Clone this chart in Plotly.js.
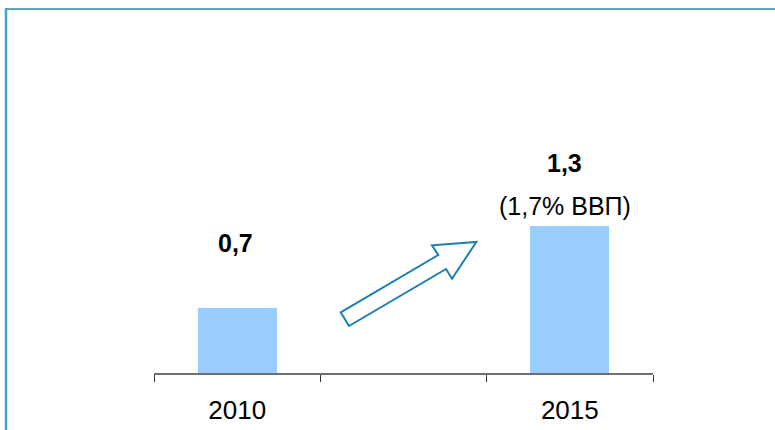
<!DOCTYPE html>
<html>
<head>
<meta charset="utf-8">
<script src="https://cdn.plot.ly/plotly-3.0.1.min.js"></script>
<style>html,body{margin:0;padding:0;background:#fff;}#chart{width:775px;height:430px;}</style>
</head>
<body>
<div id="chart"></div>
<script>
// Data
var categories = ["2010", " ", "2015"];
var years = ["2010", "2015"];
var values = [0.7, 1.3];
var valueLabels = ["0,7", "1,3"];
var gdpNote = "(1,7% ВВП)";

var W = 775, H = 430;
var M = {l: 154, r: 122, t: 30, b: 57};
var pw = W - M.l - M.r, ph = H - M.t - M.b;
function px(x) { return (x - M.l) / pw; }
function py(y) { return (H - M.b - y) / ph; }

// decorative arrow outline (pixel positions converted to paper)
var arrowPx = [[340.7,312.3],[349,326],[446,269],[452,278.7],[476.3,242],[432,245.3],[438.3,255]];
var path = arrowPx.map(function(p, i){ return (i ? "L" : "M") + px(p[0]).toFixed(4) + "," + py(p[1]).toFixed(4); }).join(" ") + " Z";

var trace = {
  type: "bar",
  x: years,
  y: values,
  width: 0.475,
  marker: {color: "#99ccff", line: {width: 0}},
  hoverinfo: "skip"
};

var font = "Liberation Sans, Arial, sans-serif";
var i0 = categories.indexOf(years[0]), i1 = categories.indexOf(years[1]);
var annotations = [
  {x: i0, y: values[0], xref: "x", yref: "y", text: "<b>" + valueLabels[0] + "</b>", showarrow: false,
   yanchor: "middle", yshift: 65, xshift: -2, font: {family: font, size: 25, color: "#000000"}},
  {x: i1, y: values[1], xref: "x", yref: "y", text: "<b>" + valueLabels[1] + "</b>", showarrow: false,
   yanchor: "middle", yshift: 63, xshift: -5, font: {family: font, size: 25, color: "#000000"}},
  {x: i1, y: values[1], xref: "x", yref: "y", text: gdpNote, showarrow: false,
   yanchor: "middle", yshift: 20, xshift: -5, font: {family: font, size: 25, color: "#000000"}}
];

var layout = {
  width: W, height: H,
  margin: M,
  paper_bgcolor: "#fff", plot_bgcolor: "#fff",
  showlegend: false,
  bargap: 0,
  xaxis: {
    type: "category",
    categoryorder: "array",
    categoryarray: categories,
    range: [-0.5, 2.5],
    tickson: "boundaries",
    ticks: "outside", ticklen: 7, tickwidth: 1, tickcolor: "#333",
    showline: true, linecolor: "#6f6f6f", linewidth: 1.5,
    showgrid: false, zeroline: false,
    tickfont: {family: font, size: 26, color: "#000"},
    ticklabelstandoff: 13,
    fixedrange: true
  },
  yaxis: {
    range: [0.224, 1.3 + (226 - 30) / 136.6],
    visible: false, showgrid: false, zeroline: false, fixedrange: true
  },
  annotations: annotations,
  shapes: [
    {type: "line", xref: "paper", yref: "paper", x0: px(5), x1: px(775), y0: py(9), y1: py(9),
     line: {color: "#2a86ae", width: 1.5}},
    {type: "line", xref: "paper", yref: "paper", x0: px(6), x1: px(6), y0: py(8.5), y1: py(430),
     line: {color: "#41a3c9", width: 2.5}},
    {type: "path", xref: "paper", yref: "paper", path: path, fillcolor: "rgba(0,0,0,0)",
     line: {color: "#1a7fb0", width: 2}}
  ]
};

Plotly.newPlot("chart", [trace], layout, {staticPlot: true, displayModeBar: false});
</script>
</body>
</html>
